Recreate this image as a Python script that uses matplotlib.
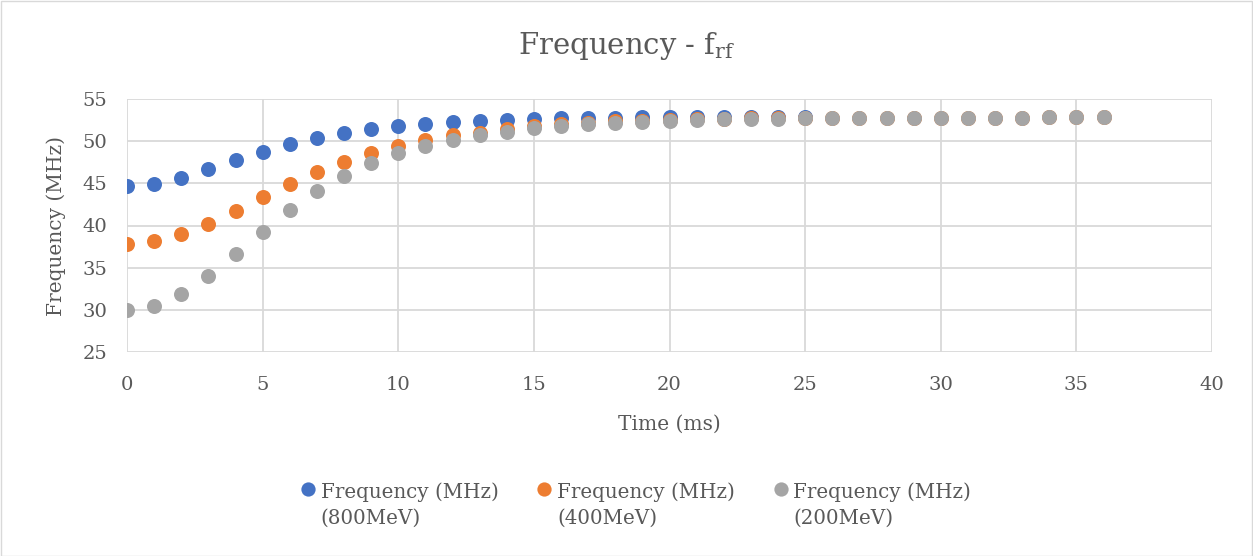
import matplotlib
matplotlib.use("Agg")
import matplotlib.pyplot as plt
from matplotlib.patches import Rectangle

time_800 = list(range(0, 26))
freq_800 = [44.68, 44.95, 45.67, 46.66, 47.73, 48.71, 49.66, 50.34, 50.93, 51.40,
            51.76, 52.03, 52.23, 52.43, 52.55, 52.65, 52.72, 52.77, 52.80, 52.82,
            52.84, 52.85, 52.86, 52.87, 52.87, 52.87]

time_400 = list(range(0, 37))
freq_400 = [37.84, 38.12, 38.95, 40.17, 41.71, 43.34, 44.88, 46.34, 47.57, 48.63,
            49.42, 50.14, 50.69, 51.00, 51.40, 51.80, 52.05, 52.20, 52.35, 52.45,
            52.55, 52.62, 52.67, 52.70, 52.72, 52.73, 52.74, 52.75, 52.76, 52.77,
            52.78, 52.79, 52.80, 52.80, 52.81, 52.81, 52.82]

time_200 = list(range(0, 37))
freq_200 = [30.00, 30.48, 31.90, 34.04, 36.58, 39.19, 41.80, 44.05, 45.83, 47.41,
            48.56, 49.42, 50.14, 50.73, 51.13, 51.60, 51.84, 52.00, 52.15, 52.31,
            52.43, 52.55, 52.60, 52.64, 52.68, 52.70, 52.73, 52.75, 52.76, 52.77,
            52.78, 52.79, 52.80, 52.80, 52.81, 52.81, 52.82]

labels = ["Frequency (MHz)\n(800MeV)", "Frequency (MHz)\n(400MeV)", "Frequency (MHz)\n(200MeV)"]
colors = ["#4472C4", "#ED7D31", "#A5A5A5"]
x_ticks = [0, 5, 10, 15, 20, 25, 30, 35, 40]
y_ticks = [25, 30, 35, 40, 45, 50, 55]

plt.rcParams['font.family'] = ['DejaVu Serif']
plt.rcParams['mathtext.fontset'] = 'custom'
plt.rcParams['mathtext.rm'] = 'DejaVu Serif'

W, H = 1253, 556
fig = plt.figure(figsize=(W / 100, H / 100), dpi=100)
ax = fig.add_axes([127 / W, 1 - 352 / H, (1212 - 127) / W, (352 - 99) / H])

series = [(time_800, freq_800), (time_400, freq_400), (time_200, freq_200)]
for (t, f), c, lab in zip(series, colors, labels):
    ax.plot(t, f, linestyle='none', marker='o', markersize=10.8, color=c,
            markeredgewidth=0, label=lab, zorder=3)

ax.set_xlim(0, 40)
ax.set_ylim(25, 55)
ax.set_xticks(x_ticks)
ax.set_yticks(y_ticks)
ax.grid(True, color='#D9D9D9', linewidth=1.3, zorder=0)
for s in ax.spines.values():
    s.set_visible(False)
ax.tick_params(length=0, labelsize=14, colors='#595959')
ax.tick_params(axis='x', pad=17)
ax.tick_params(axis='y', pad=14)
ax.set_xlabel("Time (ms)", fontsize=14.5, color='#595959', labelpad=15)
ax.set_ylabel("Frequency (MHz)", fontsize=14.5, color='#595959', labelpad=12)

fig.text(0.5, 1 - 46 / H, r"Frequency - $\mathrm{f}_{\mathrm{rf}}$", ha='center', va='center',
         fontsize=21, color='#595959')

leg = fig.legend(loc='center', bbox_to_anchor=(634 / W, 1 - 505 / H), ncol=3, frameon=False,
                 fontsize=14.3, labelcolor='#595959', handletextpad=0.1, columnspacing=1.75,
                 handlelength=1.1, markerscale=0.95)
for t in leg.get_texts():
    t.set_linespacing(1.5)
for col in leg._legend_handle_box.get_children():
    for item in col.get_children():
        item.align = 'top'

fig.patches.append(Rectangle((0.5 / W, 0.5 / H), 1 - 1.5 / W, 1 - 1.5 / H, transform=fig.transFigure,
                             fill=False, edgecolor='#D9D9D9', linewidth=1))

fig.savefig("out.png", dpi=100)
